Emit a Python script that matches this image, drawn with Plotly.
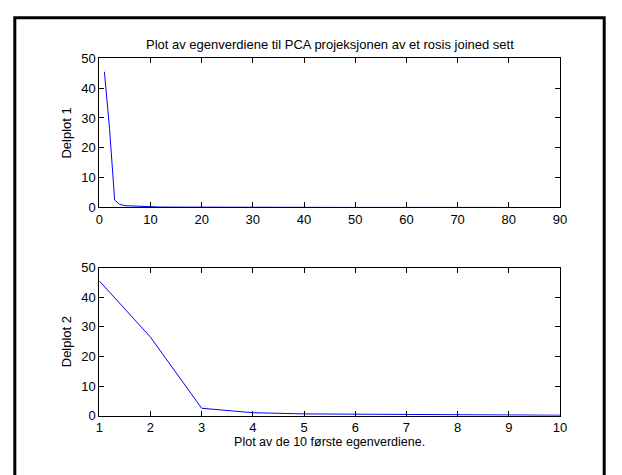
import plotly.graph_objects as go

# Eigenvalues (index 1..81)
eig_idx = list(range(1, 82))
eig_vals = [
    45.5, 26.5, 2.5, 1.0, 0.6, 0.5, 0.45, 0.35, 0.2, 0.15,
    0.14, 0.13, 0.12, 0.11, 0.10, 0.095, 0.09, 0.085, 0.08, 0.075,
    0.07, 0.066, 0.062, 0.058, 0.055, 0.052, 0.049, 0.046, 0.043, 0.041,
    0.039, 0.037, 0.035, 0.033, 0.031, 0.029, 0.028, 0.026, 0.025, 0.024,
    0.022, 0.021, 0.020, 0.019, 0.018, 0.017, 0.016, 0.015, 0.014, 0.013,
    0.012, 0.012, 0.011, 0.010, 0.010, 0.009, 0.009, 0.008, 0.008, 0.007,
    0.007, 0.006, 0.006, 0.005, 0.005, 0.005, 0.004, 0.004, 0.004, 0.003,
    0.003, 0.003, 0.003, 0.002, 0.002, 0.002, 0.002, 0.001, 0.001, 0.001,
    0.001,
]
first_n = 10

title_text = "Plot av egenverdiene til PCA projeksjonen av et rosis joined sett"
ylabel_top = "Delplot 1"
ylabel_bot = "Delplot 2"
xlabel_bot = "Plot av de 10 første egenverdiene."
top_xticks = [0, 10, 20, 30, 40, 50, 60, 70, 80, 90]
bot_xticks = [1, 2, 3, 4, 5, 6, 7, 8, 9, 10]
yticks = [0, 10, 20, 30, 40, 50]

W, H = 622, 475
FONT = "Liberation Sans, Arial, Helvetica, sans-serif"

fig = go.Figure()
fig.add_trace(go.Scatter(x=eig_idx, y=eig_vals, mode="lines",
                         line=dict(color="#0000ff", width=1), xaxis="x", yaxis="y",
                         showlegend=False, hoverinfo="skip"))
fig.add_trace(go.Scatter(x=eig_idx[:first_n], y=eig_vals[:first_n], mode="lines",
                         line=dict(color="#0000ff", width=1), xaxis="x2", yaxis="y2",
                         showlegend=False, hoverinfo="skip"))

ax_common = dict(showline=True, linecolor="black", linewidth=1, mirror="ticks",
                 ticks="inside", ticklen=5, tickcolor="black", tickwidth=1,
                 showgrid=False, zeroline=False,
                 tickfont=dict(family=FONT, size=13, color="black"))

x0, x1 = 97 / W, 566 / W
top_y = [1 - 207 / H, 1 - 53 / H]
bot_y = [1 - 422 / H, 1 - 269 / H]

fig.update_layout(
    width=W, height=H,
    margin=dict(l=0, r=0, t=0, b=0),
    paper_bgcolor="white", plot_bgcolor="white",
    font=dict(family=FONT, size=13, color="black"),
    xaxis=dict(domain=[x0, x1], anchor="y", range=[0, 90], tickvals=top_xticks, **ax_common),
    yaxis=dict(domain=top_y, anchor="x", range=[0, 50], tickvals=yticks,
               title=dict(text=ylabel_top, font=dict(family=FONT, size=13), standoff=6), **ax_common),
    xaxis2=dict(domain=[x0, x1], anchor="y2", range=[1, 10], tickvals=bot_xticks,
                title=dict(text=xlabel_bot, font=dict(family=FONT, size=12.5), standoff=2), **ax_common),
    yaxis2=dict(domain=bot_y, anchor="x2", range=[0, 50], tickvals=yticks,
                title=dict(text=ylabel_bot, font=dict(family=FONT, size=13), standoff=6), **ax_common),
    annotations=[dict(text=title_text, xref="paper", yref="paper",
                      x=(x0 + x1) / 2, y=1 - 39 / H, xanchor="center", yanchor="middle",
                      showarrow=False, font=dict(family=FONT, size=13, color="black"))],
    shapes=[dict(type="rect", xref="paper", yref="paper",
                 x0=11 / W, x1=611 / W, y0=-0.05, y1=1 - 11 / H,
                 line=dict(color="black", width=3), fillcolor="rgba(0,0,0,0)", layer="above")],
)

fig.write_html("out.html")
